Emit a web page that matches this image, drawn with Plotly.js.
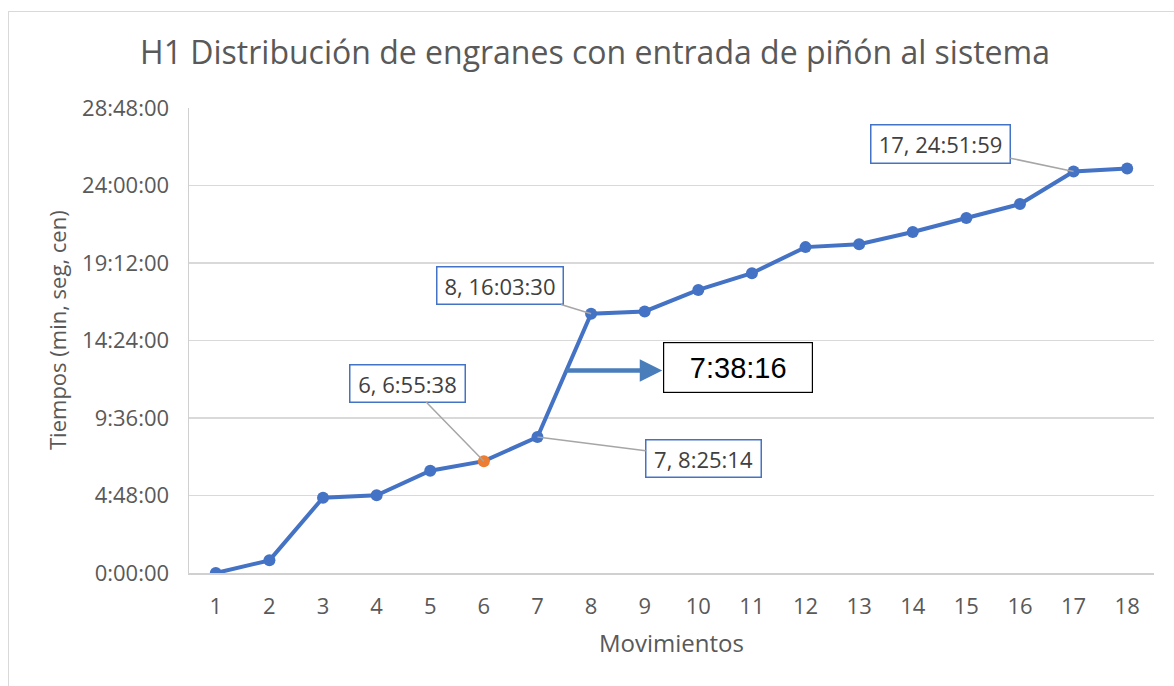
<!DOCTYPE html>
<html>
<head>
<meta charset="utf-8">
<script src="https://cdn.plot.ly/plotly-3.0.1.min.js"></script>
<style>
  html, body { margin: 0; padding: 0; background: #ffffff; }
  #wrap { position: relative; width: 1174px; height: 686px; overflow: hidden; }
  #chart { position: absolute; left: 0; top: 0; width: 1174px; height: 686px; }
  #frame { position: absolute; left: 8px; top: 11px; width: 1300px; height: 800px;
           border-left: 1px solid #d9d9d9; border-top: 1px solid #d9d9d9; pointer-events: none; }
</style>
</head>
<body>
<div id="wrap">
  <div id="chart"></div>
  <div id="frame"></div>
</div>
<script>
// ---- data ----
const movimientos = [1, 2, 3, 4, 5, 6, 7, 8, 9, 10, 11, 12, 13, 14, 15, 16, 17, 18];
const tiempos = ["0:00:00", "0:47:00", "4:40:00", "4:49:00", "6:20:00", "6:55:38", "8:25:14",
                 "16:03:30", "16:12:00", "17:32:00", "18:34:00", "20:11:00", "20:22:00",
                 "21:07:00", "21:59:00", "22:51:00", "24:51:59", "25:03:00"];
const yTickText = ["0:00:00", "4:48:00", "9:36:00", "14:24:00", "19:12:00", "24:00:00", "28:48:00"];
const labeledMovs = [6, 7, 8, 17];
const highlightMov = 6;
const diffFrom = 7, diffTo = 8;
const xTitle = "Movimientos";
const yTitle = "Tiempos (min, seg, cen)";
const chartTitle = "H1 Distribución de engranes con entrada de piñón al sistema";

// ---- helpers ----
function toHours(s) { const p = s.split(":").map(Number); return p[0] + p[1] / 60 + p[2] / 3600; }
function fmt(h) {
  let sec = Math.round(h * 3600);
  const hh = Math.floor(sec / 3600); sec -= hh * 3600;
  const mm = Math.floor(sec / 60); const ss = sec - mm * 60;
  return hh + ":" + String(mm).padStart(2, "0") + ":" + String(ss).padStart(2, "0");
}
const yVals = tiempos.map(toHours);
const yTickVals = yTickText.map(toHours);

const BLUE = "#4472C4", ORANGE = "#ED7D31", GRAY = "#595959";
const FONT = "Open Sans, sans-serif";

const markerColors = movimientos.map(m => m === highlightMov ? ORANGE : BLUE);

const traces = [{
  x: movimientos, y: yVals, type: "scatter", mode: "lines+markers",
  line: { color: BLUE, width: 4 },
  marker: { color: markerColors, size: 12 },
  hoverinfo: "skip"
}];

// label box styles (offsets in px from the point)
const labelStyle = {
  6:  { ax: -76,  ay: -78, w: 114, h: 36 },
  7:  { ax: 166,  ay: 21,  w: 114, h: 36 },
  8:  { ax: -91,  ay: -28, w: 125, h: 36 },
  17: { ax: -133, ay: -28, w: 138, h: 37 }
};

const annotations = labeledMovs.map(m => {
  const i = movimientos.indexOf(m);
  const st = labelStyle[m];
  return {
    x: m, y: yVals[i], xref: "x", yref: "y",
    text: m + ", " + tiempos[i],
    showarrow: true, arrowhead: 0, arrowwidth: 1.5, arrowcolor: "#a6a6a6",
    ax: st.ax, ay: st.ay,
    width: st.w, height: st.h, borderpad: 0,
    bgcolor: "#ffffff", bordercolor: BLUE, borderwidth: 1.5,
    font: { family: FONT, size: 22, color: "#404040" }
  };
});

// difference arrow and box
const iA = movimientos.indexOf(diffFrom), iB = movimientos.indexOf(diffTo);
const diffY = (yVals[iA] + yVals[iB]) / 2;
const diffX = (diffFrom + diffTo) / 2;
annotations.push({
  x: diffX, y: diffY, xref: "x", yref: "y",
  xshift: 98, yshift: 5,
  ax: -98, ay: 0, text: "",
  showarrow: true, arrowhead: 2, arrowsize: 1, arrowwidth: 4.5, arrowcolor: "#4A7EBB"
});
annotations.push({
  x: diffX, y: diffY, xref: "x", yref: "y",
  xshift: 99, yshift: 8, xanchor: "left", yanchor: "middle",
  showarrow: false,
  text: fmt(yVals[iB] - yVals[iA]),
  width: 148, height: 49, borderpad: 0,
  bgcolor: "#ffffff", bordercolor: "#000000", borderwidth: 1.2,
  font: { family: "Liberation Sans, Arial, sans-serif", size: 29, color: "#000000" }
});

// y-axis title (placed as annotation so it can sit slightly above the plot centre)
annotations.push({
  xref: "paper", yref: "paper", x: (57 - 189) / 965, y: (573 - 330) / 465,
  xanchor: "center", yanchor: "middle", showarrow: false, textangle: -90,
  text: yTitle, font: { family: FONT, size: 22, color: GRAY }
});

const layout = {
  width: 1174, height: 686,
  margin: { l: 189, r: 20, t: 108, b: 113 },
  paper_bgcolor: "#ffffff", plot_bgcolor: "#ffffff",
  showlegend: false,
  title: {
    text: chartTitle,
    font: { family: FONT, size: 32, color: GRAY },
    x: 595 / 1174, xanchor: "center", xref: "container",
    y: 1 - 53 / 686, yanchor: "middle", yref: "container"
  },
  xaxis: {
    range: [0.5, 18.5], tickvals: movimientos, ticktext: movimientos.map(String),
    showgrid: false, zeroline: false,
    showline: true, linecolor: "#d0d0d0", linewidth: 1.5,
    ticks: "", ticklabelstandoff: 13,
    tickfont: { family: FONT, size: 22, color: GRAY },
    title: { text: xTitle, font: { family: FONT, size: 24, color: GRAY }, standoff: 16 }
  },
  yaxis: {
    range: [0, 28.8], tickvals: yTickVals, ticktext: yTickText,
    showgrid: true, gridcolor: "#d9d9d9", gridwidth: 1.5,
    zeroline: false, showline: true, linecolor: "#d0d0d0", linewidth: 1.5,
    ticks: "", ticklabelstandoff: 14,
    tickfont: { family: FONT, size: 22, color: GRAY }
  },
  annotations: annotations
};

Plotly.newPlot("chart", traces, layout, { displayModeBar: false, staticPlot: true });
</script>
</body>
</html>
